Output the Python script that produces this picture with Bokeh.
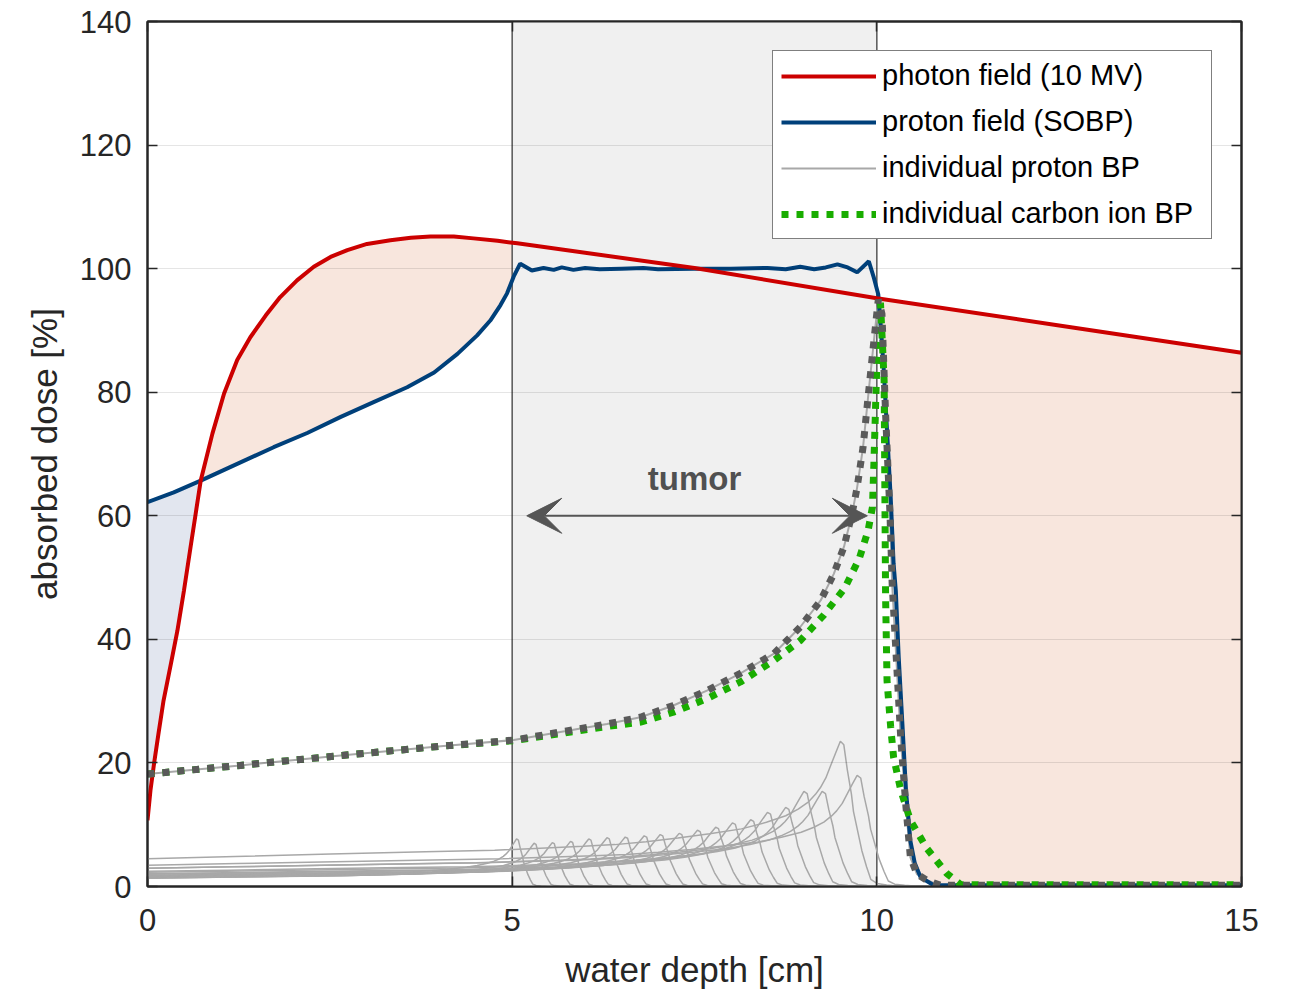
import numpy as np
from bokeh.plotting import figure
from bokeh.models import (Range1d, LinearAxis, FixedTicker, BoxAnnotation, Span,
                          Arrow, VeeHead, Label, Legend, LegendItem, CustomLabelingPolicy)
from bokeh.embed import file_html
from bokeh.resources import INLINE

# ---------------- data ----------------
photon_x = [0, 0.04, 0.09, 0.15, 0.22, 0.32, 0.41, 0.50, 0.59, 0.66, 0.73, 0.89, 1.05,
            1.23, 1.41, 1.62, 1.82, 2.05, 2.28, 2.51, 2.74, 3.01, 3.33, 3.61, 3.88,
            4.20, 4.47, 4.80, 5.07, 7.5, 10.0, 12.5, 15.0]
photon_y = [10.7, 15.5, 19.9, 24.7, 30.1, 36.0, 41.4, 47.9, 54.9, 60.3, 65.7, 73.3, 79.8,
            85.2, 88.9, 92.4, 95.4, 98.1, 100.3, 101.9, 103.0, 104.0, 104.6, 105.0, 105.2,
            105.2, 104.9, 104.5, 104.1, 100.1, 95.2, 90.8, 86.4]

sobp_x = [0, 0.36, 0.73, 1.23, 1.73, 2.19, 2.65, 3.10, 3.56, 3.93, 4.25, 4.52, 4.70, 4.84,
          4.93, 5.02, 5.11, 5.27, 5.43, 5.57, 5.68, 5.84, 6.0, 6.2, 6.5, 6.8, 7.0, 7.5, 8.0,
          8.5, 8.75, 8.95, 9.14, 9.3, 9.46, 9.6, 9.73, 9.89, 9.96, 10.02, 10.09, 10.14,
          10.19, 10.23, 10.26, 10.30, 10.35, 10.40, 10.46, 10.52, 10.60, 10.78, 15.0]
sobp_y = [62.2, 63.8, 65.7, 68.4, 71.1, 73.4, 76.0, 78.4, 80.8, 83.2, 86.2, 89.2, 91.6, 94.1,
          96.0, 98.7, 100.8, 99.7, 100.1, 99.8, 100.2, 99.8, 100.1, 99.9, 100.0, 100.1, 99.9,
          100.0, 100.0, 100.1, 99.9, 100.3, 99.9, 100.2, 100.7, 100.2, 99.4, 101.2, 98.5,
          95.8, 84.6, 73.8, 63.0, 52.2, 47.9, 37.1, 26.4, 15.5, 7.4, 3.8, 1.5, 0.2, 0.2]

proton_bp_x = [0, 1.27, 2.65, 4.02, 5.02, 6.3, 6.76, 7.21, 7.67, 8.13, 8.59, 8.95, 9.23,
               9.41, 9.55, 9.66, 9.73, 9.81, 9.88, 9.95, 10.02, 10.07, 10.12, 10.18, 10.21,
               10.33, 10.40, 10.46, 10.55, 10.69, 10.87, 15.0]
proton_bp_y = [18.2, 19.6, 21.2, 22.7, 23.7, 26.3, 27.4, 29.3, 31.7, 34.5, 37.7, 42.0, 46.3,
               50.6, 55.0, 60.3, 64.6, 71.0, 79.2, 87.2, 95.0, 92.7, 76.5, 60.4, 49.0,
               23.6, 12.8, 4.7, 2.0, 1.0, 0.2, 0.2]

carbon_bp_x = [0, 1.27, 2.65, 4.02, 5.02, 6.3, 6.76, 7.21, 7.67, 8.13, 8.59, 8.95, 9.27,
               9.56, 9.76, 9.88, 9.94, 9.96, 9.98, 10.0, 10.05, 10.10, 10.12, 10.14, 10.19,
               10.23, 10.33, 10.46, 10.69, 10.96, 11.15, 15.0]
carbon_bp_y = [18.2, 19.6, 21.2, 22.7, 23.6, 25.9, 26.6, 28.2, 30.4, 33.1, 36.6, 39.8, 43.9,
               48.3, 53.1, 57.6, 61.4, 68.5, 76.5, 84.6, 94.5, 81.9, 47.0, 33.3, 25.8,
               20.9, 15.5, 10.7, 6.1, 2.1, 0.3, 0.3]

# individual proton Bragg peaks: peak depth [cm] and peak dose [%]
bp_ranges = [5.06, 5.30, 5.55, 5.80, 6.05, 6.30, 6.55, 6.81, 7.03, 7.29, 7.54, 7.79,
             8.02, 8.27, 8.50, 8.75, 9.00, 9.25, 9.50, 9.73]
bp_peaks = [7.7, 7.0, 7.1, 7.3, 7.7, 7.9, 8.0, 8.2, 8.4, 8.6, 9.1, 9.6,
            10.3, 10.8, 12.0, 12.8, 15.4, 15.4, 23.5, 18.0]

tumor_start, tumor_end = 5.0, 10.0
arrow_x = [5.2, 9.87]
arrow_y = 60.0
tumor_label_pos = (7.5, 66.0)
x_ticks = [0, 5, 10, 15]
y_ticks = [0, 20, 40, 60, 80, 100, 120, 140]

# ---------------- styling ----------------
FONT = "Liberation Sans"
AX = "#262626"
RED = "#cc0000"
BLUE = "#00407a"
DGRAY = "#5a5a5a"
GREEN = "#19ad00"
LGRAY = "#a8a8a8"

p = figure(frame_width=1094, frame_height=865,
           min_border_left=147, min_border_right=40, min_border_top=21, min_border_bottom=100,
           x_range=Range1d(0, 15), y_range=Range1d(0, 140),
           output_backend="svg", toolbar_location=None, background_fill_color="white")
p.outline_line_color = AX
p.outline_line_width = 2

for ax, ticks in ((p.xaxis[0], x_ticks), (p.yaxis[0], y_ticks)):
    ax.ticker = FixedTicker(ticks=ticks)
    ax.major_tick_in = 10
    ax.major_tick_out = 0
    ax.minor_tick_line_color = None
    ax.axis_line_color = AX
    ax.axis_line_width = 2
    ax.major_tick_line_color = AX
    ax.major_tick_line_width = 1.5
    ax.major_label_text_font = FONT
    ax.major_label_text_font_size = "31px"
    ax.major_label_text_color = AX
    ax.axis_label_text_font = FONT
    ax.axis_label_text_font_size = "35px"
    ax.axis_label_text_font_style = "normal"
    ax.axis_label_text_color = AX
p.xaxis.axis_label = "water depth [cm]"
p.yaxis.axis_label = "absorbed dose [%]"
p.xaxis.major_label_standoff = 22
p.xaxis.axis_label_standoff = 16
p.yaxis.major_label_standoff = 16
p.yaxis.axis_label_standoff = 13

# box ticks on right/top (no labels)
no_labels = CustomLabelingPolicy(code="for (const i of indices) indices.unset(i); return indices")
for place, ticks in (("right", y_ticks), ("above", x_ticks)):
    a = LinearAxis(ticker=FixedTicker(ticks=ticks), major_tick_in=10, major_tick_out=0,
                   minor_tick_line_color=None, axis_line_color=AX, axis_line_width=2,
                   major_tick_line_color=AX, major_tick_line_width=1.5,
                   major_label_policy=no_labels, major_label_standoff=0)
    p.add_layout(a, place)

p.xgrid.grid_line_color = None
p.ygrid.ticker = FixedTicker(ticks=y_ticks)
p.ygrid.grid_line_color = "#000000"
p.ygrid.grid_line_alpha = 0.1
p.ygrid.grid_line_width = 1
p.ygrid.level = "glyph"

# tumor region
p.add_layout(BoxAnnotation(left=tumor_start, right=tumor_end, fill_color="#f0f0f0",
                           fill_alpha=1, line_color=None, level="underlay"))
for xv in (tumor_start, tumor_end):
    p.add_layout(Span(location=xv, dimension="height", line_color="#555555",
                      line_width=1.5, level="underlay"))

# dose-difference fills
xg = np.linspace(0, 15, 3001)
ph = np.interp(xg, photon_x, photon_y)
pr = np.interp(xg, sobp_x, sobp_y)
outside = (xg <= tumor_start) | (xg >= tumor_end)
salmon_top = np.where(outside & (ph > pr), ph, pr)
p.varea(x=xg, y1=pr, y2=salmon_top, fill_color="#f8e6dd", level="underlay")
blue_top = np.where(outside & (pr > ph), pr, ph)
p.varea(x=xg, y1=ph, y2=blue_top, fill_color="#e2e6ef", level="underlay")

# individual proton Bragg peaks (shape of the reference BP, scaled)
pbx = np.array(proton_bp_x)
pby = np.array(proton_bp_y)
ref_range = pbx[np.argmax(pby)]
ref_peak = pby.max()
for r, h in zip(bp_ranges, bp_peaks):
    p.line(pbx * r / ref_range, pby * h / ref_peak, line_color=LGRAY, line_width=1.5)
ref_thin = p.line(proton_bp_x, proton_bp_y, line_color=LGRAY, line_width=2)

r_sobp = p.line(sobp_x, sobp_y, line_color=BLUE, line_width=4)
r_photon = p.line(photon_x, photon_y, line_color=RED, line_width=4)
r_carbon = p.line(carbon_bp_x, carbon_bp_y, line_color=GREEN, line_width=7,
                  line_dash="7 8", line_cap="butt")
r_pbp = p.line(proton_bp_x, proton_bp_y, line_color=DGRAY, line_width=7,
               line_dash="7 8", line_cap="butt")

# tumor arrow + label
p.add_layout(Arrow(start=VeeHead(size=35, fill_color="#555555", line_color="#555555"),
                   end=VeeHead(size=35, fill_color="#555555", line_color="#555555"),
                   x_start=arrow_x[0], y_start=arrow_y, x_end=arrow_x[1], y_end=arrow_y,
                   line_color="#555555", line_width=2))
p.add_layout(Label(x=tumor_label_pos[0], y=tumor_label_pos[1], text="tumor",
                   text_font=FONT, text_font_size="33px", text_font_style="bold",
                   text_color="#505050", text_align="center", text_baseline="middle"))

# legend
legend = Legend(items=[
    LegendItem(label="photon field (10 MV)", renderers=[r_photon]),
    LegendItem(label="proton field (SOBP)", renderers=[r_sobp]),
    LegendItem(label="individual proton BP", renderers=[ref_thin]),
    LegendItem(label="individual carbon ion BP", renderers=[r_carbon]),
], location="top_right")
legend.margin = 29
legend.padding = 8
legend.glyph_width = 95
legend.glyph_height = 30
legend.label_height = 30
legend.label_width = 321
legend.label_standoff = 6
legend.spacing = 13
legend.label_text_font = FONT
legend.label_text_font_size = "29px"
legend.label_text_color = "#000000"
legend.border_line_color = "#000000"
legend.border_line_width = 1.5
legend.background_fill_color = "white"
legend.background_fill_alpha = 1
p.add_layout(legend)

open("out.html", "w").write(file_html(p, INLINE))
